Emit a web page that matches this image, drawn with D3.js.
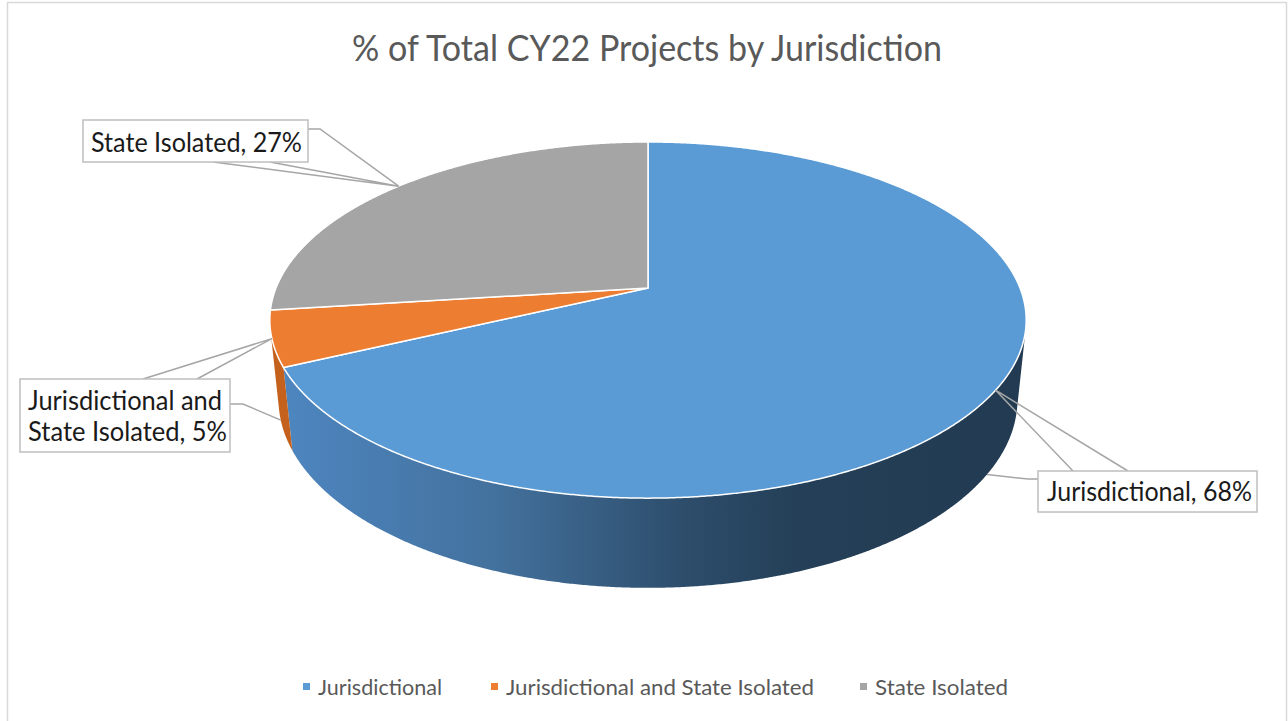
<!DOCTYPE html>
<html>
<head>
<meta charset="utf-8">
<script src="https://cdn.jsdelivr.net/npm/d3@7"></script>
<style>
  body { margin: 0; background: #fff; }
  svg { display: block; }
</style>
</head>
<body>
<div id="chart"></div>
<script>
// Chart data
const title = '% of Total CY22 Projects by Jurisdiction';
const categories = ['Jurisdictional', 'Jurisdictional and State Isolated', 'State Isolated'];
const shares = [68, 5, 27];
const topColors = ['#5B9BD5', '#ED7D31', '#A5A5A5'];
const sideColors = ['url(#blueSide)', '#C4621D', '#7C7C7C'];

const width = 1288, height = 721;

// 3D view settings (perspective tilt of the pie)
const cx = 648, cy = 288, focal = 372;
const sinT = 0.4632, cosT = Math.sqrt(1 - sinT * sinT);
const dist = 4.924, depth = 0.244;

function project(theta, h = 0) {
  const X = Math.sin(theta), Z = Math.cos(theta);
  const w = 1 + (Z * cosT + h * sinT) / dist;
  return [cx + focal * X / w, cy - focal * (Z * sinT - h * cosT) / w];
}

function arcPoints(a0, a1, h) {
  const n = Math.max(2, Math.ceil((a1 - a0) / 0.005) + 1);
  return d3.range(n).map(i => project(a0 + (a1 - a0) * i / (n - 1), h));
}

const svg = d3.select('#chart')
  .append('svg')
  .attr('width', width)
  .attr('height', height)
  .style('font-family', "Lato, 'Open Sans', sans-serif");

const defs = svg.append('defs');
const grad = defs.append('linearGradient')
  .attr('id', 'blueSide')
  .attr('gradientUnits', 'userSpaceOnUse')
  .attr('x1', 270).attr('x2', 1026).attr('y1', 0).attr('y2', 0);
[[0, '#4E87C2'], [0.3, '#43719D'], [0.55, '#2D4D6B'], [0.7, '#243F57'], [1, '#223B52']]
  .forEach(([o, c]) => grad.append('stop').attr('offset', o).attr('stop-color', c));

// chart area border
svg.append('rect')
  .attr('x', 7.5).attr('y', 2.5)
  .attr('width', 1279).attr('height', 740)
  .attr('fill', 'none')
  .attr('stroke', '#D9D9D9')
  .attr('stroke-width', 1.5);

// title
svg.append('text')
  .attr('x', 647).attr('y', 61)
  .attr('text-anchor', 'middle')
  .attr('font-size', 36)
  .attr('fill', '#595959')
  .attr('textLength', 590)
  .attr('lengthAdjust', 'spacingAndGlyphs')
  .text(title);

const color = d3.scaleOrdinal().domain(categories).range(topColors);
const side = d3.scaleOrdinal().domain(categories).range(sideColors);

const arcs = d3.pie().sort(null).value(d => d)(shares)
  .map((a, i) => ({ ...a, name: categories[i] }));

const line = d3.line();

// side walls (front half only)
const sil = Math.acos(-1 / (dist * cosT));
const g = svg.append('g');
g.selectAll('path.side')
  .data(arcs.filter(a => Math.min(a.endAngle, 2 * Math.PI - sil) > Math.max(a.startAngle, sil)))
  .join('path')
  .attr('class', 'side')
  .attr('d', a => {
    const a0 = Math.max(a.startAngle, sil), a1 = Math.min(a.endAngle, 2 * Math.PI - sil);
    return line(arcPoints(a0, a1, 0).concat(arcPoints(a0, a1, depth).reverse())) + 'Z';
  })
  .attr('fill', a => side(a.name));

// top faces
g.selectAll('path.top')
  .data(arcs)
  .join('path')
  .attr('class', 'top')
  .attr('d', a => line([[cx, cy]].concat(arcPoints(a.startAngle, a.endAngle, 0))) + 'Z')
  .attr('fill', a => color(a.name))
  .attr('stroke', '#fff')
  .attr('stroke-width', 1.5)
  .attr('stroke-linejoin', 'round');

// data label callouts
const labelLayout = [
  { box: [1038, 471, 219, 41], lines: [[1047, 501, 205]], wedge: [[1073, 471], [1128, 471]], elbow: [[1038, 479], [1028, 479]], toSide: true },
  { box: [20, 379, 210, 73], lines: [[28, 410, 194], [28, 441, 199]], wedge: [[143, 379], [197, 379]], elbow: [[230, 404], [243, 404]], toSide: true },
  { box: [83, 120, 225, 42], lines: [[91, 152, 211]], wedge: [[213, 162], [270, 162]], elbow: [[308, 129], [320, 129]], toSide: false }
];

const labels = svg.append('g');
arcs.forEach((a, i) => {
  const L = labelLayout[i];
  const mid = (a.startAngle + a.endAngle) / 2;
  const tip = project(mid, 0);
  const foot = L.toSide ? project(mid, depth) : tip;
  const lg = labels.append('g');
  lg.append('path')
    .attr('d', line([L.wedge[0], tip, L.wedge[1]]))
    .attr('fill', 'none').attr('stroke', '#A6A6A6').attr('stroke-width', 1.5);
  lg.append('path')
    .attr('d', line([L.elbow[0], L.elbow[1], foot]))
    .attr('fill', 'none').attr('stroke', '#A6A6A6').attr('stroke-width', 1.5);
  lg.append('rect')
    .attr('x', L.box[0]).attr('y', L.box[1])
    .attr('width', L.box[2]).attr('height', L.box[3])
    .attr('fill', '#fff').attr('stroke', '#BFBFBF').attr('stroke-width', 1.5);
  const txt = L.lines.length > 1
    ? ['Jurisdictional and', 'State Isolated, ' + shares[i] + '%']
    : [a.name + ', ' + shares[i] + '%'];
  L.lines.forEach((p, j) => {
    lg.append('text')
      .attr('x', p[0]).attr('y', p[1])
      .attr('font-size', 26)
      .attr('fill', '#1A1A1A')
      .attr('textLength', p[2])
      .attr('lengthAdjust', 'spacingAndGlyphs')
      .text(txt[j]);
  });
});

// legend
const legendX = [303, 491, 860];
const legendW = [124, 308, 133];
const legend = svg.append('g')
  .selectAll('g')
  .data(categories)
  .join('g')
  .attr('transform', (d, i) => `translate(${legendX[i]},687)`);
legend.append('rect')
  .attr('x', 0).attr('y', -4)
  .attr('width', 7).attr('height', 7)
  .attr('fill', d => color(d));
legend.append('text')
  .attr('x', 15).attr('y', 7.5)
  .attr('font-size', 21)
  .attr('fill', '#595959')
  .attr('textLength', (d, i) => legendW[i])
  .attr('lengthAdjust', 'spacingAndGlyphs')
  .text(d => d);
</script>
</body>
</html>
